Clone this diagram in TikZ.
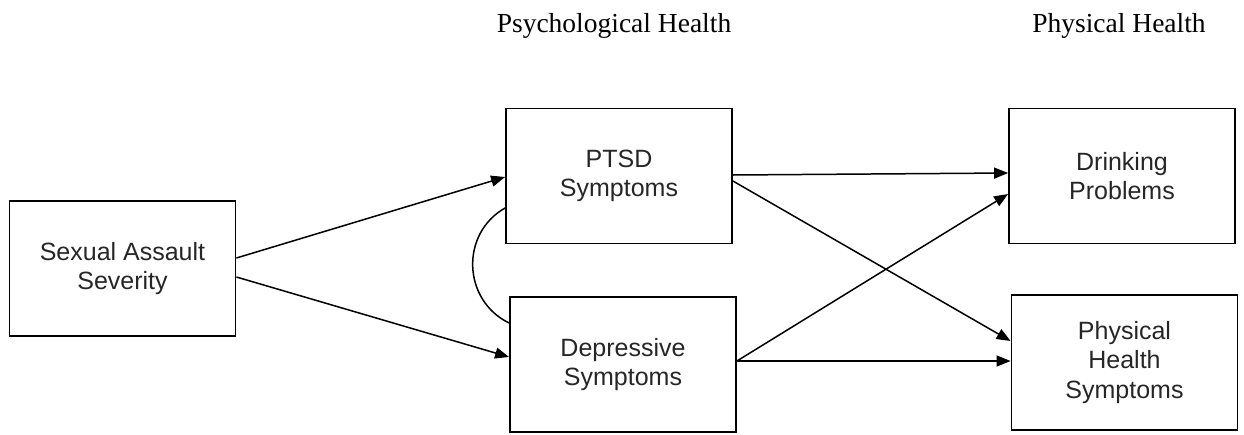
\documentclass[tikz,border=0pt]{standalone}
\usepackage{fontspec}
\setmainfont{Liberation Sans}
\newfontfamily\headfont{Liberation Serif}
\usetikzlibrary{arrows.meta}
\begin{document}
\begin{tikzpicture}[x=1pt,y=-1pt,
  varbox/.style={draw,line width=1.8pt,minimum width=226pt,minimum height=135pt,inner sep=0pt,align=center,font=\fontsize{25}{29.5}\selectfont,text=black!85},
  header/.style={anchor=base,font=\headfont\fontsize{27.5}{30}\selectfont},
  path/.style={line width=1.5pt,-{Triangle[length=14pt,width=11pt]}},
  corr/.style={line width=1.5pt}]
\useasboundingbox (0,0) rectangle (1244,434);
\node[header] (hpsy) at (614,32) {Psychological Health};
\node[header] (hphy) at (1119,32) {Physical Health};
\node[varbox] (sas) at (122.5,268.5) {Sexual Assault\\Severity};
\node[varbox] (ptsd) at (619,176) {PTSD\\Symptoms};
\node[varbox] (dep) at (623,364.5) {Depressive\\Symptoms};
\node[varbox] (drink) at (1122,176) {Drinking\\Problems};
\node[varbox] (phys) at (1124.5,362.5) {Physical\\Health\\Symptoms};
\draw[path] ([yshift=10.5pt]sas.east) -- ([yshift=-1pt]ptsd.west);
\draw[path] ([yshift=-8.5pt]sas.east) -- ([yshift=7.5pt]dep.west);
\draw[path] ([yshift=1pt]ptsd.east) -- ([yshift=3pt]drink.west);
\draw[path] ([yshift=-5pt]ptsd.east) -- ([yshift=21.5pt]phys.west);
\draw[path] ([yshift=3.5pt]dep.east) -- ([yshift=-18pt]drink.west);
\draw[path] ([yshift=3.5pt]dep.east) -- ([yshift=1.5pt]phys.west);
\coordinate (c1) at ([yshift=-32pt]ptsd.west);
\coordinate (c2) at ([yshift=41.5pt]dep.west);
\draw[corr] (c1) .. controls (460,233.5) and (462.5,300.4) .. (c2);
\end{tikzpicture}
\end{document}
